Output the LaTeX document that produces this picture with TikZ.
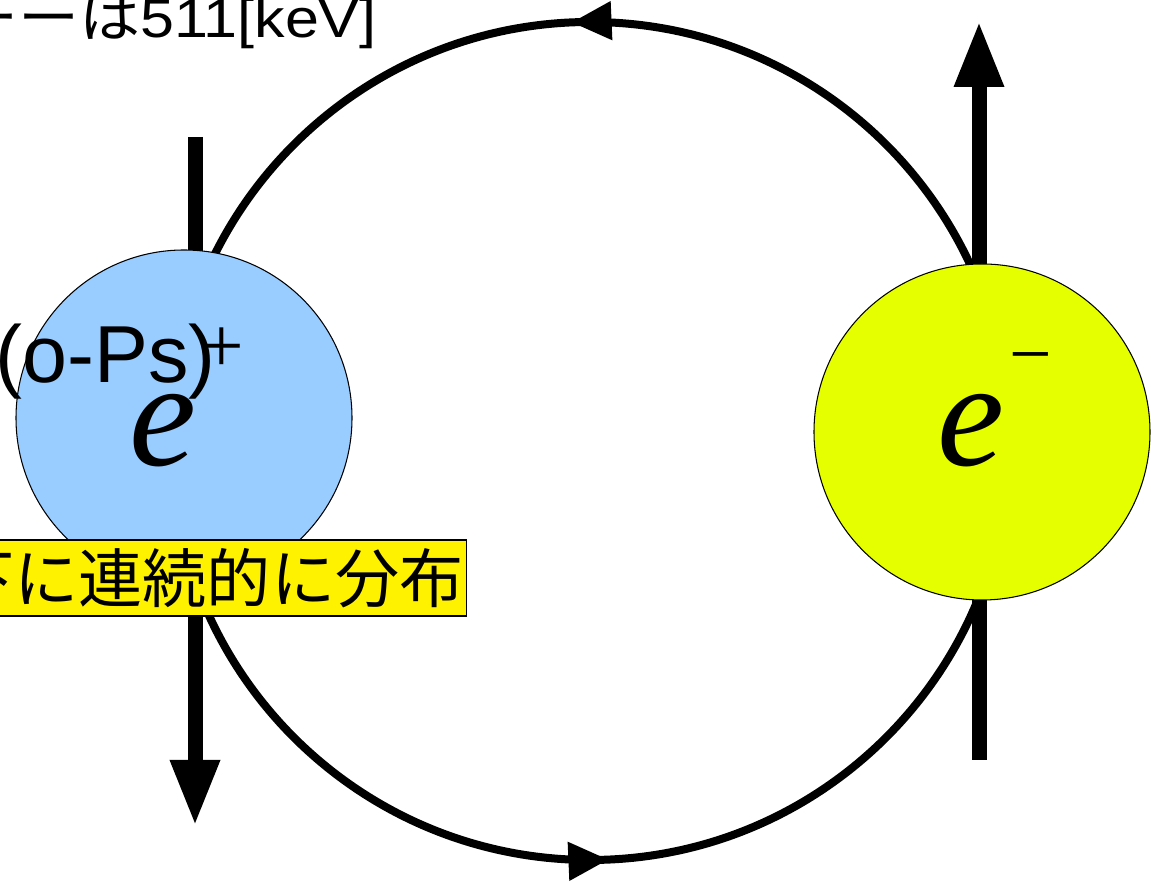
\documentclass[tikz,border=0pt]{standalone}
\usepackage{fontspec}
\setmainfont{Liberation Sans}
\newfontfamily\jpfont{Noto Sans CJK JP}
\newfontfamily\timesfont{Liberation Serif}
\usetikzlibrary{arrows.meta, decorations.markings}
\definecolor{posblue}{HTML}{99CCFF}
\definecolor{elegreen}{HTML}{E6FF00}

\begin{document}
\begin{tikzpicture}[scale=1.0,
  particle/.style={circle, draw=black, line width=0.6pt, minimum size=6.72cm, inner sep=0pt},
  spin/.style={line width=0.3cm, -{Triangle[length=1.32cm,width=0.92cm]}},
  orbit/.style={line width=0.16cm, postaction={decorate}, decoration={markings,
      mark=at position 0.257 with {\arrow{Triangle[length=0.8cm,width=0.74cm]}},
      mark=at position 0.757 with {\arrow{Triangle[length=0.8cm,width=0.74cm]}}}},
  charge/.style={inner sep=0pt, anchor=base west, font=\timesfont\itshape\fontsize{86pt}{90pt}\selectfont},
  sign/.style={inner sep=0pt, anchor=base, font=\timesfont\fontsize{45pt}{50pt}\selectfont}]
\useasboundingbox (0,0) rectangle (23.02,17.64);
% orbit
\coordinate (orbc) at (11.8,8.82);
\draw[orbit] (orbc) circle[radius=8.38cm];
% spins
\coordinate (posTop) at (3.9,14.9); \coordinate (posBot) at (3.9,1.12);
\coordinate (eleBot) at (19.58,2.44); \coordinate (eleTop) at (19.58,17.22);
\draw[spin] (posTop) -- (posBot);
\draw[spin] (eleBot) -- (eleTop);
% positron and electron
\node[particle, fill=posblue] (pos) at (3.68,9.28) {};
\node[particle, fill=elegreen] (ele) at (19.64,9.00) {};
\node[charge] (posE) at (2.58,8.32) {e};
\node[sign] (posS) at (4.44,10.18) {+};
\node[charge] (eleE) at (18.74,8.32) {e};
\node[sign, font=\timesfont\fontsize{43pt}{48pt}\selectfont] (eleS) at (20.62,10.04) {−};
% labels
\node[inner sep=0pt, anchor=base east, font=\fontsize{31pt}{34pt}\selectfont] (energy) at (7.54,16.88)
  {\scalebox{1.12}[1]{{\jpfont ーーは}511[keV]}};
\node[inner sep=0pt, anchor=base west, font=\fontsize{46pt}{50pt}\selectfont] (ops) at (-0.1,9.98) {(o-Ps)};
\node[fill=yellow, draw=black, line width=0.6pt, anchor=east, minimum height=1.52cm, inner xsep=0.06cm,
  font=\jpfont\fontsize{36.5pt}{40pt}\selectfont] (note) at (9.34,6.08) {下に連続的に分布};
\end{tikzpicture}
\end{document}
